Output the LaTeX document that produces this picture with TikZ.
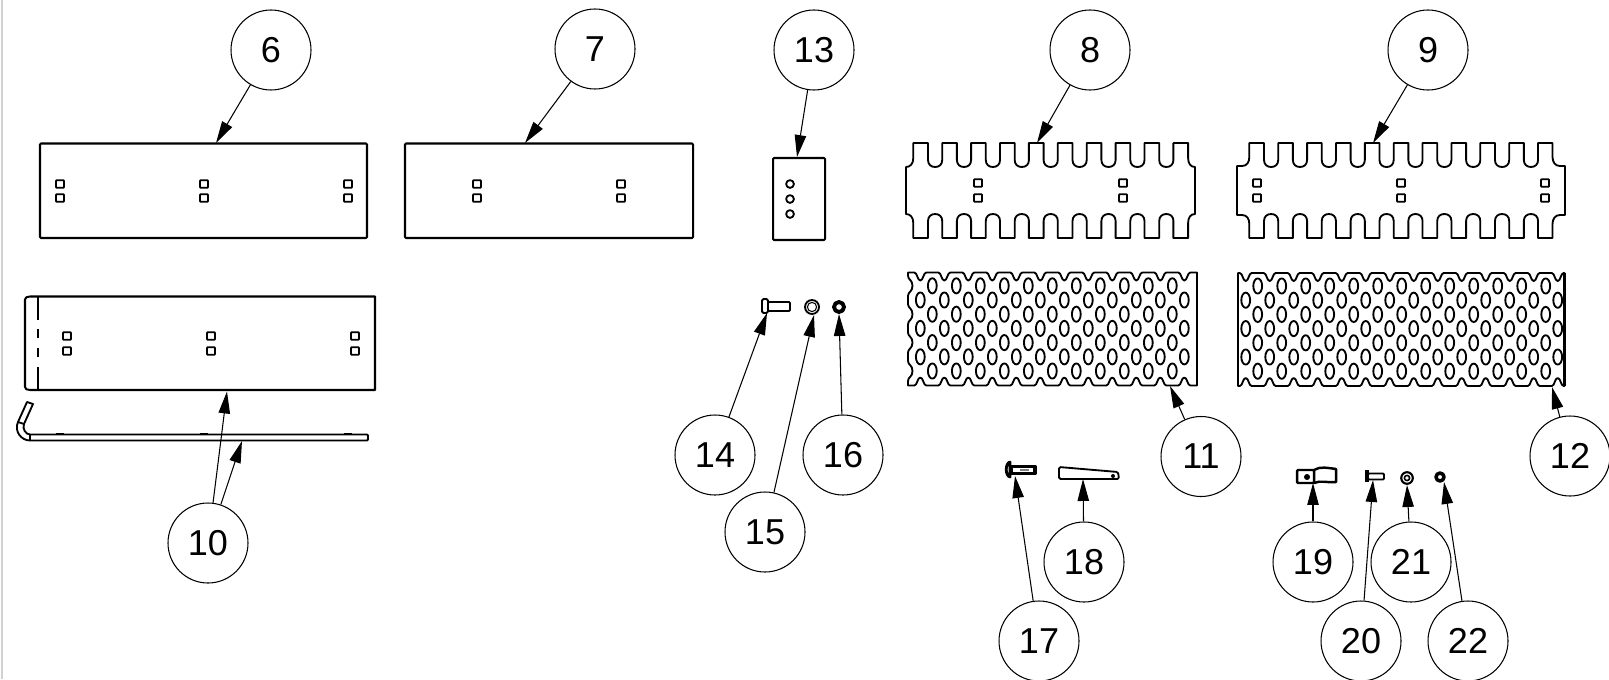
\documentclass[tikz,border=0pt]{standalone}
\usepackage{fontspec}
\setmainfont{Liberation Sans}
\usetikzlibrary{arrows.meta}

\begin{document}
\begin{tikzpicture}[
    x=0.2mm, y=-0.2mm,
    % item balloons and their leaders
    balloon/.style={draw, circle, line width=0.6pt, minimum size=1.6cm, inner sep=0pt,
                    font=\fontsize{20.5}{24}\selectfont},
    leader/.style={line width=0.6pt, -{Triangle[length=12.5pt, width=6.5pt]}},
    % drawn parts
    part/.style={draw, line width=1.05pt, line join=round},
    sheet/.style={part, line width=1.15pt, rounded corners=0.2mm},
    slot/.style={part, rounded corners=0.15mm}
]

\definecolor{edgeC}{RGB}{208,208,208}

\useasboundingbox (0,0) rectangle (1609,679);
\fill[edgeC] (0.7,0) rectangle (2.7,679);

% Plate 6
\draw[sheet] (40,143.5) rectangle (367,238);
\foreach \hx in {60,204,348}
  \foreach \hy in {184,198}
    \draw[slot] (\hx-4,\hy-3.8) rectangle (\hx+4,\hy+3.8);

% Plate 7
\draw[sheet] (405,143.5) rectangle (693,238);
\foreach \hx in {477,621}
  \foreach \hy in {184,198}
    \draw[slot] (\hx-4,\hy-3.8) rectangle (\hx+4,\hy+3.8);

% Plate 13
\draw[sheet] (773,158) rectangle (825,240);
\foreach \hy in {184,199,214}
  \draw[part] (790,\hy) circle (3.9);

% Plate 10, front view
\draw[part, line width=1.15pt] (375,296.5) -- (30,296.5) .. controls (27,296.5) and (25,297.5) .. (25,299.5)
  -- (25,387) .. controls (25,389) and (27,390) .. (30,390) -- (375,390) -- cycle;
\draw[part] (38,296.5) -- (38,320) (38,329) -- (38,338) (38,348) -- (38,357) (38,367) -- (38,390);
\foreach \hx in {67,211,355}
  \foreach \hy in {336,351}
    \draw[slot] (\hx-4,\hy-3.8) rectangle (\hx+4,\hy+3.8);

% Plate 10, side view
\draw[part] (30,434.5) -- (367,434.5) -- (368,435.5) -- (368,439.5) -- (367,440.5) -- (30,440.5)
  .. controls (21,440.5) and (14,431) .. (18,422) -- (27,402) -- (33,404) -- (24,424)
  .. controls (22,429) and (26,434.5) .. (30,434.5) -- cycle;
\draw[part] (18,422) -- (24,424) (30,434.5) -- (30,440.5);
\foreach \hx in {60,204,348}
  \draw[part] (\hx-4,433.6) -- (\hx+4,433.6);

% Plate 8, ten teeth
\draw[part] (906,190) -- (906,167) .. controls (910,167) and (913.3,164) .. (913.3,158) -- (913.3,143)
  foreach \k [evaluate=\k as \xl using 928+28.9*\k, evaluate=\k as \xr using 942.2+28.9*\k] in {0,...,8} {
    -- (\xl,143) -- (\xl,160) .. controls (\xl,164.5) and (\xl+3,167) .. (\xl+7.1,167)
    .. controls (\xr-3,167) and (\xr,164.5) .. (\xr,160) -- (\xr,143) }
  -- (1188.1,143) -- (1188.1,158) .. controls (1188.1,164) and (1191,167) .. (1195,167) -- (1195,214)
  .. controls (1191,214) and (1188.1,217) .. (1188.1,223) -- (1188.1,238)
  foreach \k [evaluate=\k as \xl using 928+28.9*\k, evaluate=\k as \xr using 942.2+28.9*\k] in {8,...,0} {
    -- (\xr,238) -- (\xr,221) .. controls (\xr,216.5) and (\xr-3,214) .. (\xr-7.1,214)
    .. controls (\xl+3,214) and (\xl,216.5) .. (\xl,221) -- (\xl,238) }
  -- (913.3,238) -- (913.3,223) .. controls (913.3,217) and (910,214) .. (906,214) -- cycle;
\foreach \hx in {978,1123}
  \foreach \hy in {183,198}
    \draw[slot] (\hx-4,\hy-3.8) rectangle (\hx+4,\hy+3.8);

% Plate 9, eleven teeth
\draw[part] (1237,190) -- (1237,166) -- (1242,166) .. controls (1247,166) and (1249.3,162) .. (1249.3,157) -- (1249.3,143)
  foreach \k [evaluate=\k as \xl using 1264+28.87*\k, evaluate=\k as \xr using 1278.2+28.87*\k] in {0,...,9} {
    -- (\xl,143) -- (\xl,160) .. controls (\xl,164.5) and (\xl+3,167) .. (\xl+7.1,167)
    .. controls (\xr-3,167) and (\xr,164.5) .. (\xr,160) -- (\xr,143) }
  -- (1552.5,143) -- (1552.5,157) .. controls (1552.5,162) and (1555,166) .. (1560,166) -- (1565,166) -- (1565,215) -- (1560,215)
  .. controls (1555,215) and (1552.5,219) .. (1552.5,224) -- (1552.5,238)
  foreach \k [evaluate=\k as \xl using 1264+28.87*\k, evaluate=\k as \xr using 1278.2+28.87*\k] in {9,...,0} {
    -- (\xr,238) -- (\xr,221) .. controls (\xr,216.5) and (\xr-3,214) .. (\xr-7.1,214)
    .. controls (\xl+3,214) and (\xl,216.5) .. (\xl,221) -- (\xl,238) }
  -- (1249.3,238) -- (1249.3,224) .. controls (1249.3,219) and (1247,215) .. (1242,215) -- (1237,215) -- cycle;
\foreach \hx in {1257,1401,1545}
  \foreach \hy in {183,198}
    \draw[slot] (\hx-4,\hy-3.8) rectangle (\hx+4,\hy+3.8);

% Perforated sheet 11
\draw[part] (908,272.5)
  foreach \k [evaluate=\k as \dx using 920.3+24*\k] in {0,...,11} {
    -- (\dx-6,272.5) .. controls (\dx-3,272.5) and (\dx-3,280.5) .. (\dx,280.5) .. controls (\dx+3,280.5) and (\dx+3,272.5) .. (\dx+6,272.5) }
  -- (1197,272.5) -- (1197,385.5)
  foreach \k [evaluate=\k as \dx using 920.3+24*\k] in {11,...,0} {
    -- (\dx+6,385.5) .. controls (\dx+3,385.5) and (\dx+3,377.5) .. (\dx,377.5) .. controls (\dx-3,377.5) and (\dx-3,385.5) .. (\dx-6,385.5) }
  -- (908,385.5)
  foreach \ry in {371,342.6,314.2,285.8} {
    -- (908,\ry+10) .. controls (908,\ry+6) and (912.5,\ry+6) .. (912.5,\ry) .. controls (912.5,\ry-6) and (908,\ry-6) .. (908,\ry-10) }
  -- cycle;
\foreach \ry in {285.8,314.2,342.6,371}
  \foreach \k in {0,...,10}
    \draw[part] (932.3+24*\k,\ry) ellipse [x radius=4.4, y radius=7.6];
\foreach \ry in {300,328.4,356.8}
  \foreach \k in {0,...,11}
    \draw[part] (920.3+24*\k,\ry) ellipse [x radius=4.4, y radius=7.6];

% Perforated sheet 12
\draw[part] (1238,273)
  foreach \k [evaluate=\k as \dx using 1245.7+24*\k] in {0,...,13} {
    -- (\dx-6,273) .. controls (\dx-3,273) and (\dx-3,281) .. (\dx,281) .. controls (\dx+3,281) and (\dx+3,273) .. (\dx+6,273) }
  -- (1564.5,273) -- (1564.5,386)
  foreach \k [evaluate=\k as \dx using 1245.7+24*\k] in {13,...,0} {
    -- (\dx+6,386) .. controls (\dx+3,386) and (\dx+3,378) .. (\dx,378) .. controls (\dx-3,378) and (\dx-3,386) .. (\dx-6,386) }
  -- (1238,386) -- cycle;
\draw[part, line width=1.3pt] (1238,273) -- (1238,386) (1564.5,273) -- (1564.5,386);
\foreach \ry in {286,314.4,342.8,371.2}
  \foreach \k in {0,...,12}
    \draw[part] (1257.7+24*\k,\ry) ellipse [x radius=4.4, y radius=7.6];
\foreach \ry in {300.2,328.6,357}
  \foreach \k in {0,...,13}
    \draw[part] (1245.7+24*\k,\ry) ellipse [x radius=4.4, y radius=7.6];

% Hardware 14, 15, 16
\draw[part, rounded corners=0.3mm] (762,299) rectangle (768,313);
\draw[part, rounded corners=0.2mm] (768,302) rectangle (790,311);
\draw[part] (812,307) circle (7);
\draw[part, line width=0.6pt] (812,307) circle (4.6);
\draw[part, line width=2.2pt] (839,307) circle (5);

% Hardware 17, 18
\draw[part, line width=1.6pt] (1010,462) .. controls (1005,463) and (1005,476) .. (1010,477) -- cycle;
\draw[part, line width=2pt] (1011,466.5) -- (1035,466.5) -- (1035,473.5) -- (1011,473.5) -- cycle;
\draw[draw=gray, line width=0.7pt] (1020,470) -- (1029,470);
\draw[part, rounded corners=0.3mm] (1059,467) -- (1118,472) -- (1119,479) -- (1059,479) -- cycle;
\fill (1113,476) circle (2);

% Hardware 19, 20, 21, 22
\draw[part, line width=1.4pt, rounded corners=0.2mm] (1297,470) rectangle (1314,483);
\draw[part, line width=1.4pt] (1314,470) .. controls (1320,466) and (1328,468) .. (1336,469)
  -- (1336,482) .. controls (1328,483) and (1320,480) .. (1314,483);
\fill (1307,477) circle (3);
\draw[part, line width=1.8pt] (1367,470) -- (1367,482);
\draw[part, rounded corners=0.2mm] (1368,473.5) rectangle (1384,479.5);
\draw[part, line width=1.2pt] (1407,478) circle (5.8);
\draw[part, line width=0.9pt] (1407,478) circle (2.6);
\draw[part, line width=2pt] (1440,477) circle (4);

% Leader end points
\coordinate (tip6) at (216,143);
\coordinate (tip7) at (525,143);
\coordinate (tip13) at (797,157);
\coordinate (tip8) at (1037,143);
\coordinate (tip9) at (1373,143);
\coordinate (tip10a) at (227,391.5);
\coordinate (tip10b) at (242,441);
\coordinate (tip14) at (767,313);
\coordinate (tip15) at (814,315);
\coordinate (tip16) at (839,314);
\coordinate (tip11) at (1170,386);
\coordinate (tip12) at (1552,387);
\coordinate (tip17) at (1015,476);
\coordinate (tip18) at (1083,479);
\coordinate (tip19) at (1313,483);
\coordinate (tip20) at (1373,480);
\coordinate (tip21) at (1407,485);
\coordinate (tip22) at (1444,482);

% Balloons
\node[balloon] (item6) at (271,50) {6};
\node[balloon] (item7) at (595,49) {7};
\node[balloon] (item13) at (814,50) {13};
\node[balloon] (item8) at (1090,50) {8};
\node[balloon] (item9) at (1428,50) {9};
\node[balloon] (item10) at (208,543) {10};
\node[balloon] (item14) at (715,455) {14};
\node[balloon] (item15) at (765,532) {15};
\node[balloon] (item16) at (843,455) {16};
\node[balloon] (item11) at (1201,456.5) {11};
\node[balloon] (item12) at (1570,456) {12};
\node[balloon] (item17) at (1039,641) {17};
\node[balloon] (item18) at (1084,562) {18};
\node[balloon] (item19) at (1313,562) {19};
\node[balloon] (item20) at (1361,641) {20};
\node[balloon] (item21) at (1411,562) {21};
\node[balloon] (item22) at (1468,641) {22};

% Leaders
\draw[leader] (item6) -- (tip6);
\draw[leader] (item7) -- (tip7);
\draw[leader] (item13) -- (tip13);
\draw[leader] (item8) -- (tip8);
\draw[leader] (item9) -- (tip9);
\draw[leader] (item10) -- (tip10a);
\draw[leader] (item10) -- (tip10b);
\draw[leader] (item14) -- (tip14);
\draw[leader] (item15) -- (tip15);
\draw[leader] (item16) -- (tip16);
\draw[leader] (item11) -- (tip11);
\draw[leader] (item12) -- (tip12);
\draw[leader] (item17) -- (tip17);
\draw[leader] (item18) -- (tip18);
\draw[leader] (item19) -- (tip19);
\draw[leader] (item20) -- (tip20);
\draw[leader] (item21) -- (tip21);
\draw[leader] (item22) -- (tip22);

\end{tikzpicture}
\end{document}
